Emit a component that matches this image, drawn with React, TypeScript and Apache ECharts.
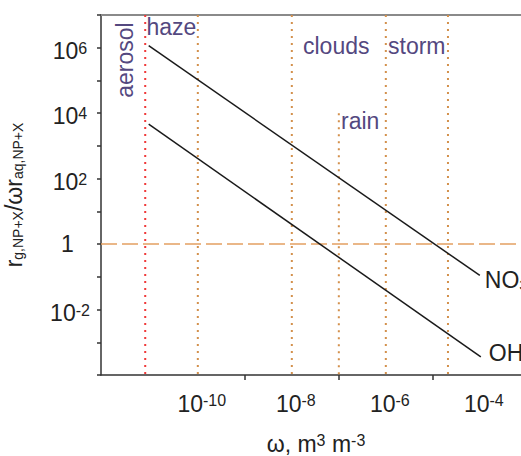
import React, { useEffect, useRef } from "react";
import * as echarts from "echarts";

// ---- data (raw values, drawn on log10 scales) ----
const omegaNO3 = [9e-12, 1.0e-4];
const ratioNO3 = [1.15e6, 0.11];
const omegaOH = [9e-12, 1.05e-4];
const ratioOH = [4.6e3, 3.6e-4];

// regime boundaries (vertical dotted lines)
const boundaryOmega = [7.6e-12, 1e-10, 1e-8, 1e-7, 1e-6, 2.1e-5];
const boundaryTop = [1e7, 1e7, 1e7, 1e4, 1e7, 1e7];
const unityRatio = 1;

const regimeLabels = ["aerosol", "haze", "clouds", "rain", "storm"];

// axis ticks / labels (exponents)
const xTickExps = [-9, -7, -5];
const xLabelExps = [-10, -8, -6, -4];
const yLabelExps = [-2, 0, 2, 4, 6];

const X_MIN = -12.06;
const X_MAX = -3.124;
const Y_MIN = -4;
const Y_MAX = 7;

const FONT = "Liberation Sans, Arial, Helvetica, sans-serif";
const PURPLE = "#54487f";
const ORANGE = "#d3904c";
const RED = "#f03a3a";
const TEXT = "#222";

const L = (v: number) => Math.log10(v);

export default function App() {
  const ref = useRef<HTMLDivElement>(null);

  useEffect(() => {
    if (!ref.current) return;
    const chart = echarts.init(ref.current, null, { renderer: "svg" });

    const boundarySeries = boundaryOmega.map((w, i) => ({
      type: "line",
      data: [
        [L(w), L(boundaryTop[i])],
        [L(w), Y_MIN],
      ],
      symbol: "none",
      silent: true,
      z: 1,
      lineStyle: { color: i === 0 ? RED : ORANGE, width: 2, type: [2, 5] },
    }));

    const supRich = {
      b: { fontSize: 23, lineHeight: 23, fontFamily: FONT, color: TEXT },
      s: { fontSize: 16, lineHeight: 10, verticalAlign: "top", fontFamily: FONT, color: TEXT },
    };

    const option: any = {
      animation: false,
      grid: { left: 101, top: 15, right: 0, bottom: 81, outerBoundsMode: "none" },
      xAxis: [
        {
          type: "value",
          min: X_MIN,
          max: X_MAX,
          position: "bottom",
          splitLine: { show: false },
          axisLine: { show: true, onZero: false, lineStyle: { color: "#333", width: 1.5 } },
          axisTick: { show: true, customValues: xTickExps, length: 5, lineStyle: { color: "#333", width: 1.5 } },
          axisLabel: {
            customValues: xLabelExps,
            margin: 17,
            formatter: (v: number) => `{b|10}{s|${v}}`,
            rich: {
              b: { ...supRich.b, padding: [0, 0, 0, 8] },
              s: { ...supRich.s, lineHeight: 6 },
            },
          },
          name: "{t|ω, m}{s|3}{t| m}{s|-3}",
          nameLocation: "middle",
          nameGap: 57,
          nameTextStyle: {
            padding: [0, 0, 0, 10],
            rich: {
              t: { fontSize: 23, lineHeight: 23, fontFamily: FONT, color: TEXT },
              s: { fontSize: 16, lineHeight: 10, verticalAlign: "top", fontFamily: FONT, color: TEXT },
            },
          },
        },
        {
          type: "value",
          min: X_MIN,
          max: X_MAX,
          position: "top",
          splitLine: { show: false },
          axisLine: { show: true, onZero: false, lineStyle: { color: "#8a8a8a", width: 2 } },
          axisTick: { show: false },
          axisLabel: { show: false },
        },
      ],
      yAxis: {
        type: "value",
        min: Y_MIN,
        max: Y_MAX,
        interval: 1,
        splitLine: { show: false },
        axisLine: { show: true, onZero: false, lineStyle: { color: "#333", width: 1.5 } },
        axisTick: { show: true, length: 4, lineStyle: { color: "#333", width: 1.5 } },
        axisLabel: {
          align: "center",
          margin: 31,
          formatter: (v: number) =>
            yLabelExps.includes(v) ? (v === 0 ? "{c|1}" : `{b|10}{s|${v}}`) : "",
          rich: {
            b: { ...supRich.b, padding: [6, 0, 0, 0] },
            s: { ...supRich.s, padding: [4, 0, 0, 0] },
            c: { fontSize: 23, lineHeight: 23, fontFamily: FONT, color: TEXT, padding: [0, 5, 0, 0] },
          },
        },
        name: "{r|r}{sub|g,NP+X}{r|/ωr}{sub|aq,NP+X}",
        nameLocation: "middle",
        nameRotate: 90,
        nameGap: 76,
        nameTextStyle: {
          rich: {
            r: { fontSize: 23, lineHeight: 23, fontFamily: FONT, color: TEXT },
            sub: { fontSize: 14, lineHeight: 9, verticalAlign: "bottom", fontFamily: FONT, color: TEXT },
          },
        },
      },
      series: [
        ...boundarySeries,
        {
          type: "line",
          data: [
            [X_MIN, L(unityRatio)],
            [X_MAX, L(unityRatio)],
          ],
          symbol: "none",
          silent: true,
          z: 1,
          lineStyle: { color: "#e3a062", width: 1.5, type: [16, 5] },
        },
        {
          name: "NO3",
          type: "line",
          data: omegaNO3.map((w, i) => [L(w), L(ratioNO3[i])]),
          symbol: "none",
          z: 3,
          lineStyle: { color: "#1a1a1a", width: 1.5 },
          endLabel: {
            show: true,
            distance: 5,
            offset: [0, 5],
            formatter: "{t|NO}{s|3}",
            rich: {
              t: { fontSize: 23, fontFamily: FONT, color: TEXT },
              s: { fontSize: 15, fontFamily: FONT, color: TEXT, verticalAlign: "bottom", lineHeight: 8 },
            },
          },
        },
        {
          name: "OH",
          type: "line",
          data: omegaOH.map((w, i) => [L(w), L(ratioOH[i])]),
          symbol: "none",
          z: 3,
          lineStyle: { color: "#1a1a1a", width: 1.5 },
          endLabel: {
            show: true,
            distance: 8,
            offset: [0, -4],
            formatter: "OH",
            fontSize: 23,
            fontFamily: FONT,
            color: TEXT,
          },
        },
      ],
      graphic: [
        {
          type: "text",
          x: 125,
          y: 60,
          rotation: Math.PI / 2,
          style: { text: regimeLabels[0], font: `23px ${FONT}`, fill: PURPLE, align: "center", verticalAlign: "middle" },
        },
        {
          type: "text",
          x: 146.5,
          y: 27.4,
          style: { text: regimeLabels[1], font: `23px ${FONT}`, fill: PURPLE, align: "left", verticalAlign: "middle" },
        },
        {
          type: "text",
          x: 303,
          y: 45.7,
          style: { text: regimeLabels[2], font: `23px ${FONT}`, fill: PURPLE, align: "left", verticalAlign: "middle" },
        },
        {
          type: "text",
          x: 341,
          y: 120.5,
          style: { text: regimeLabels[3], font: `23px ${FONT}`, fill: PURPLE, align: "left", verticalAlign: "middle" },
        },
        {
          type: "text",
          x: 388,
          y: 45.7,
          style: { text: regimeLabels[4], font: `23px ${FONT}`, fill: PURPLE, align: "left", verticalAlign: "middle" },
        },
      ],
    };

    chart.setOption(option);
    return () => chart.dispose();
  }, []);

  return (
    <div
      style={{ position: "fixed", left: 0, top: 0, width: 521, height: 456, overflow: "hidden", background: "#fff" }}
    >
      <div ref={ref} style={{ width: 521, height: 456 }} />
    </div>
  );
}
